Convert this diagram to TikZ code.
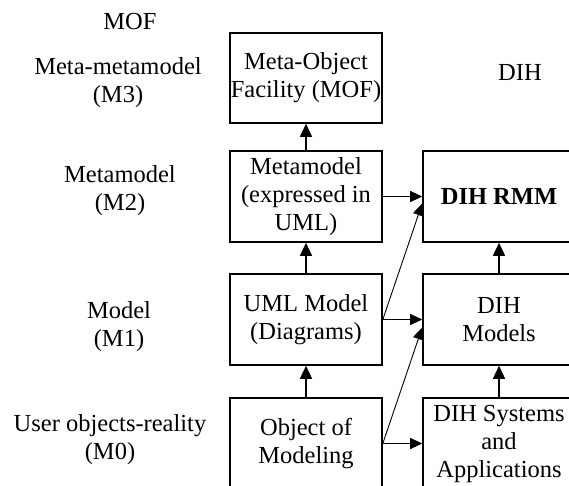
\documentclass[tikz,border=0pt]{standalone}
\usepackage{fontspec}
\setmainfont{Liberation Serif}
\usetikzlibrary{arrows.meta}
\begin{document}
\begin{tikzpicture}[x=1pt,y=-1pt,
  txt/.style={font=\fontsize{24.5}{28}\selectfont, align=center, inner sep=0pt},
  box/.style={txt, draw, line width=1.6pt, minimum width=152pt, minimum height=91pt},
  harrow/.style={line width=0.9pt, -{Triangle[length=12pt,width=11pt]}},
  varrow/.style={line width=1.5pt, -{Triangle[length=13pt,width=12pt]}}]
\useasboundingbox (0,0) rectangle (569,486);
\clip (0,0) rectangle (569,486);
\fill[white] (0,0) rectangle (569,486);
% left labels
\node[txt] (mof) at (130,22) {MOF};
\node[txt] (m3) at (118,83) {Meta-metamodel\\(M3)};
\node[txt] (m2) at (120,191) {Metamodel\\(M2)};
\node[txt] (m1) at (119,327) {Model\\(M1)};
\node[txt] (m0) at (110,440) {User objects-reality\\(M0)};
\node[txt] (dih) at (520,73) {DIH};
% left column
\node[box, minimum height=90pt] (bmof) at (306,78) {Meta-Object\\Facility (MOF)};
\node[box] (bmeta) at (306,196.5) {Metamodel\\(expressed in\\UML)};
\node[box] (buml) at (306,319.5) {UML Model\\(Diagrams)};
\node[box] (bobj) at (306,443.5) {Object of\\Modeling};
% right column
\node[box] (brmm) at (499,196.5) {\textbf{DIH RMM}};
\node[box] (bmod) at (499,319.5) {DIH\\Models};
\node[box] (bsys) at (499,443.5) {DIH Systems\\and\\Applications};
% vertical arrows
\draw[varrow] (bmeta.north) -- (bmof.south);
\draw[varrow] (buml.north) -- (bmeta.south);
\draw[varrow] (bobj.north) -- (buml.south);
\draw[varrow] (bmod.north) -- (brmm.south);
\draw[varrow] (bsys.north) -- (bmod.south);
% horizontal arrows
\draw[harrow] (bmeta.east) -- (brmm.west);
\draw[harrow] (buml.east) -- (bmod.west);
\draw[harrow] (bobj.east) -- (bsys.west);
% diagonal arrows
\coordinate (trmm) at ([yshift=-7pt]brmm.west);
\coordinate (tmod) at ([yshift=-8pt]bmod.west);
\draw[harrow] (buml.east) -- (trmm);
\draw[harrow] (bobj.east) -- (tmod);
\end{tikzpicture}
\end{document}
